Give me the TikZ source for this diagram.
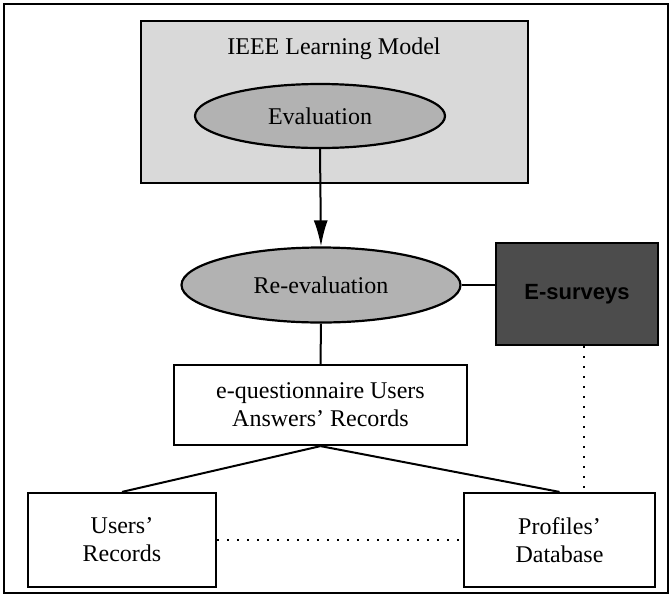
\documentclass[tikz,border=0pt]{standalone}
\usepackage{fontspec}
\setmainfont{Liberation Serif}
\newfontfamily\arialfont{Liberation Sans}
\usetikzlibrary{shapes.geometric,arrows.meta}
\begin{document}
\begin{tikzpicture}[x=1pt,y=-1pt,
  every node/.style={font=\fontsize{24}{28}\selectfont},
  plainbox/.style={draw,line width=2.2pt,fill=white,align=center,inner sep=0pt},
  ellnode/.style={draw,ellipse,line width=2.2pt,fill=black!30,inner sep=0pt},
  conn/.style={line width=2pt},
  dotconn/.style={line width=2.2pt,dash pattern=on 1.5pt off 8.5pt}]
\useasboundingbox (0,0) rectangle (672,603);
\draw[line width=1.6pt] (4,4) rectangle (668,593);
\node[plainbox,fill=black!15,minimum width=387pt,minimum height=162pt] (ieee) at (334.5,102) {};
\node (title) at (334,49) {IEEE Learning Model};
\node[ellnode,minimum width=250pt,minimum height=64pt] (eval) at (320,116) {Evaluation};
\node[ellnode,minimum width=279pt,minimum height=75pt] (reeval) at (321,285) {Re-evaluation};
\node[plainbox,fill=black!70,minimum width=162pt,minimum height=102pt,font=\arialfont\bfseries\fontsize{22}{24}\selectfont] (esurv) at (577,294) {E-surveys};
\node[plainbox,minimum width=293pt,minimum height=80pt] (eq) at (320.5,405) {e-questionnaire Users\\Answers' Records};
\node[plainbox,minimum width=188pt,minimum height=94pt] (users) at (122,540) {Users'\\Records};
\node[plainbox,minimum width=191pt,minimum height=94pt] (profiles) at (559.5,540) {Profiles'\\Database};
\draw[conn,-{Latex[length=26pt,width=14pt]}] (eval.south) -- (reeval.north);
\draw[conn] (reeval.east) -- (reeval.east -| esurv.west);
\draw[conn] (reeval.south) -- (eq.north);
\draw[conn] (eq.south) -- (users.north);
\draw[conn] (eq.south) -- (profiles.north);
\draw[dotconn] (users.east) -- (profiles.west);
\draw[dotconn] ([xshift=7pt]esurv.south) -- ([xshift=7pt]esurv.south |- profiles.north);
\end{tikzpicture}
\end{document}
